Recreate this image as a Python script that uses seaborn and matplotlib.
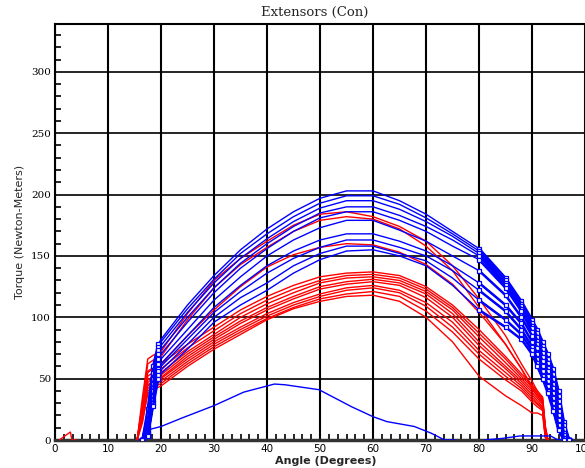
import numpy as np
import pandas as pd
import matplotlib
matplotlib.use("Agg")
import matplotlib.pyplot as plt
from matplotlib.ticker import MultipleLocator
import seaborn as sns

# ---------------- data ----------------
TITLE = "Extensors (Con)"
XLABEL = "Angle (Degrees)"
YLABEL = "Torque (Newton-Meters)"
X_TICKS = [0, 10, 20, 30, 40, 50, 60, 70, 80, 90, 100]
Y_TICKS = [0, 50, 100, 150, 200, 250, 300]

BLUE_ANGLE = [16.5, 17.5, 18.5, 19.5, 20, 25, 30, 35, 40, 45, 50, 55, 60, 65, 70,
              75, 80, 85, 88, 90, 91, 92, 93, 94, 95, 96, 97]
BLUE_TRIALS = [
    [0, 25, 60, 78, 82, 110, 134, 155, 172, 186, 197, 203, 203, 195, 184, 170, 156, 132, 113, 98, 90, 80, 70, 58, 40, 15, 0],
    [0, 20, 55, 76, 80, 107, 131, 152, 168, 182, 193, 199, 199, 192, 181, 168, 154, 130, 111, 95, 87, 77, 66, 54, 36, 12, 0],
    [0, 16, 50, 73, 77, 104, 128, 148, 164, 178, 189, 195, 195, 188, 178, 166, 152, 128, 109, 93, 84, 74, 63, 50, 32, 9, 0],
    [0, 12, 46, 70, 74, 100, 124, 144, 160, 174, 185, 190, 190, 183, 174, 163, 150, 126, 107, 91, 81, 71, 59, 46, 28, 6, 0],
    [0, 10, 42, 66, 70, 96, 120, 140, 156, 170, 181, 186, 186, 179, 170, 158, 147, 124, 105, 88, 78, 68, 56, 42, 24, 4, 0],
    [0, 8, 40, 62, 66, 90, 114, 133, 150, 163, 173, 179, 179, 171, 162, 150, 138, 118, 100, 85, 75, 64, 52, 38, 20, 2, 0],
    [0, 6, 36, 58, 62, 85, 108, 126, 142, 154, 163, 168, 168, 162, 154, 142, 128, 110, 95, 80, 70, 60, 48, 34, 16, 0, 0],
    [0, 5, 33, 56, 60, 82, 104, 121, 136, 148, 157, 163, 163, 157, 150, 138, 122, 105, 90, 76, 66, 56, 44, 30, 12, 0, 0],
    [0, 4, 30, 53, 57, 78, 100, 116, 128, 142, 152, 158, 158, 152, 146, 132, 114, 98, 86, 73, 63, 52, 40, 26, 9, 0, 0],
    [0, 3, 28, 50, 54, 74, 96, 110, 122, 136, 147, 154, 155, 150, 142, 126, 106, 92, 82, 70, 60, 50, 38, 24, 8, 0, 0],
]

RED_ANGLE = [15.5, 16.5, 17.5, 18.5, 20, 25, 30, 35, 40, 45, 50, 55, 60, 65, 70,
             75, 80, 85, 88, 90, 91, 92, 92.5, 93]
RED_TRIALS = [
    [0, 35, 66, 69, 72, 103, 130, 148, 162, 175, 184, 186, 182, 174, 162, 142, 115, 85, 62, 48, 40, 34, 10, 0],
    [0, 30, 62, 65, 68, 98, 124, 143, 157, 170, 179, 182, 180, 172, 158, 138, 108, 78, 58, 44, 38, 32, 8, 0],
    [0, 28, 55, 58, 62, 85, 106, 125, 141, 151, 157, 160, 159, 153, 143, 127, 104, 78, 58, 42, 36, 30, 6, 0],
    [0, 30, 56, 59, 62, 78, 92, 106, 117, 126, 133, 136, 137, 134, 125, 110, 90, 68, 54, 45, 40, 35, 12, 0],
    [0, 28, 52, 55, 58, 75, 89, 103, 114, 123, 130, 134, 135, 132, 123, 108, 87, 66, 52, 43, 38, 33, 10, 0],
    [0, 26, 49, 52, 55, 72, 86, 100, 111, 120, 128, 132, 133, 130, 121, 106, 84, 63, 50, 41, 36, 31, 8, 0],
    [0, 24, 47, 50, 53, 70, 84, 97, 108, 117, 125, 129, 131, 128, 119, 103, 80, 60, 48, 39, 34, 29, 6, 0],
    [0, 22, 45, 48, 51, 68, 82, 95, 106, 115, 123, 127, 129, 126, 116, 100, 77, 58, 46, 37, 32, 27, 5, 0],
    [0, 20, 44, 47, 50, 66, 80, 92, 103, 112, 119, 124, 126, 122, 112, 96, 73, 55, 44, 35, 30, 26, 4, 0],
    [0, 18, 42, 45, 48, 64, 78, 90, 101, 110, 117, 122, 124, 120, 109, 92, 70, 52, 42, 33, 29, 25, 3, 0],
    [0, 16, 40, 43, 46, 62, 76, 88, 99, 108, 115, 119, 121, 117, 105, 88, 66, 49, 40, 31, 27, 24, 2, 0],
    [0, 14, 38, 41, 44, 60, 74, 86, 98, 107, 113, 117, 118, 113, 100, 80, 52, 36, 28, 22, 22, 20, 2, 0],
]

SMALL_BLUE1_ANGLE = [16.5, 17.3, 20, 24, 30, 35.6, 41.4, 43.4, 49.8, 56, 60, 62.6, 67.8, 71, 73.5, 75.5]
SMALL_BLUE1 = [0, 8, 11, 18, 28, 39, 45.6, 45, 41, 27, 19, 15, 11, 5.5, 0, 0]
SMALL_BLUE2_ANGLE = [81, 84.4, 87.7, 93.5, 94.7, 97]
SMALL_BLUE2 = [0, 1.3, 3.3, 3.3, 0.5, 0]
SMALL_RED_ANGLE = [0.8, 2.9, 3.2, 4.0]
SMALL_RED = [0, 6.5, 0, 0]

# ---------------- build long-form table ----------------
rows = []
uid = 0
for vals in RED_TRIALS:
    for a, v in zip(RED_ANGLE, vals):
        rows.append(("red", uid, a, v))
    uid += 1
for a, v in zip(SMALL_RED_ANGLE, SMALL_RED):
    rows.append(("red", uid, a, v))
uid += 1
for vals in BLUE_TRIALS:
    for a, v in zip(BLUE_ANGLE, vals):
        rows.append(("blue", uid, a, v))
    uid += 1
for a, v in zip(SMALL_BLUE1_ANGLE, SMALL_BLUE1):
    rows.append(("blue", uid, a, v))
uid += 1
for a, v in zip(SMALL_BLUE2_ANGLE, SMALL_BLUE2):
    rows.append(("blue", uid, a, v))
uid += 1
df = pd.DataFrame(rows, columns=["side", "trial", "angle", "torque"])

palette = {"red": "#ff0000", "blue": "#0000ff"}

# ---------------- figure ----------------
sns.set_style("white")
plt.rcParams["font.family"] = ["DejaVu Sans"]

fig = plt.figure(figsize=(5.85, 4.68), dpi=100)
ax = fig.add_axes([55 / 585, 28 / 468, 1 - 55 / 585 + 0.02, (440 - 24) / 468])

red_df = df[df.side == "red"]
blue_df = df[df.side == "blue"]

sns.lineplot(data=red_df, x="angle", y="torque", hue="side", units="trial",
             estimator=None, sort=False, palette=palette, linewidth=1.0,
             legend=False, ax=ax, zorder=3)
sns.lineplot(data=blue_df, x="angle", y="torque", hue="side", units="trial",
             estimator=None, sort=False, palette=palette, linewidth=1.0,
             legend=False, ax=ax, zorder=4)

# dense sampled parts of blue trials (onset and tail) drawn with markers
main_blue = blue_df[blue_df.trial < uid - 2]
tail = main_blue[main_blue.angle >= 80]
onset = main_blue[main_blue.angle <= 19.5]
for part in (tail, onset):
    sns.lineplot(data=part, x="angle", y="torque", hue="side", units="trial",
                 estimator=None, sort=False, palette=palette, linewidth=1.8,
                 marker="s", markersize=2.8, markerfacecolor="white",
                 markeredgecolor="#0000ff", markeredgewidth=0.9,
                 legend=False, ax=ax, zorder=5)

ax.set_xlim(0, 102.2)
ax.set_ylim(0, 339)
ax.set_xticks(X_TICKS)
ax.set_yticks(Y_TICKS)
ax.set_xticklabels([str(t) for t in X_TICKS], fontsize=7.5)
ax.set_yticklabels([str(t) for t in Y_TICKS], fontsize=7.5, family="DejaVu Serif")
ax.xaxis.set_minor_locator(MultipleLocator(10 / 6))
ax.yaxis.set_minor_locator(MultipleLocator(10))
ax.tick_params(which="major", length=0, pad=3, colors="black")
ax.tick_params(which="minor", direction="in", length=4, width=1.2, color="black")
ax.tick_params(axis="x", which="minor", top=False, bottom=True)
ax.tick_params(axis="y", which="minor", left=True, right=False)

ax.set_axisbelow(True)
ax.grid(True, which="major", axis="x", color="black", linewidth=1.5)
ax.grid(True, which="major", axis="y", color="black", linewidth=1.2)

for s in ("left", "top"):
    ax.spines[s].set_color("black")
    ax.spines[s].set_linewidth(1.5)
ax.spines["bottom"].set_color("#333333")
ax.spines["bottom"].set_linewidth(2.5)
ax.spines["right"].set_visible(False)

ax.set_xlabel(XLABEL, fontsize=8, fontweight="bold", labelpad=1)
ax.set_ylabel(YLABEL, fontsize=8, labelpad=4)
fig.text(315 / 585, 1 - 12 / 468, TITLE, ha="center", va="center",
         fontsize=9.5, family="DejaVu Serif")

fig.savefig("out.png", dpi=100)
